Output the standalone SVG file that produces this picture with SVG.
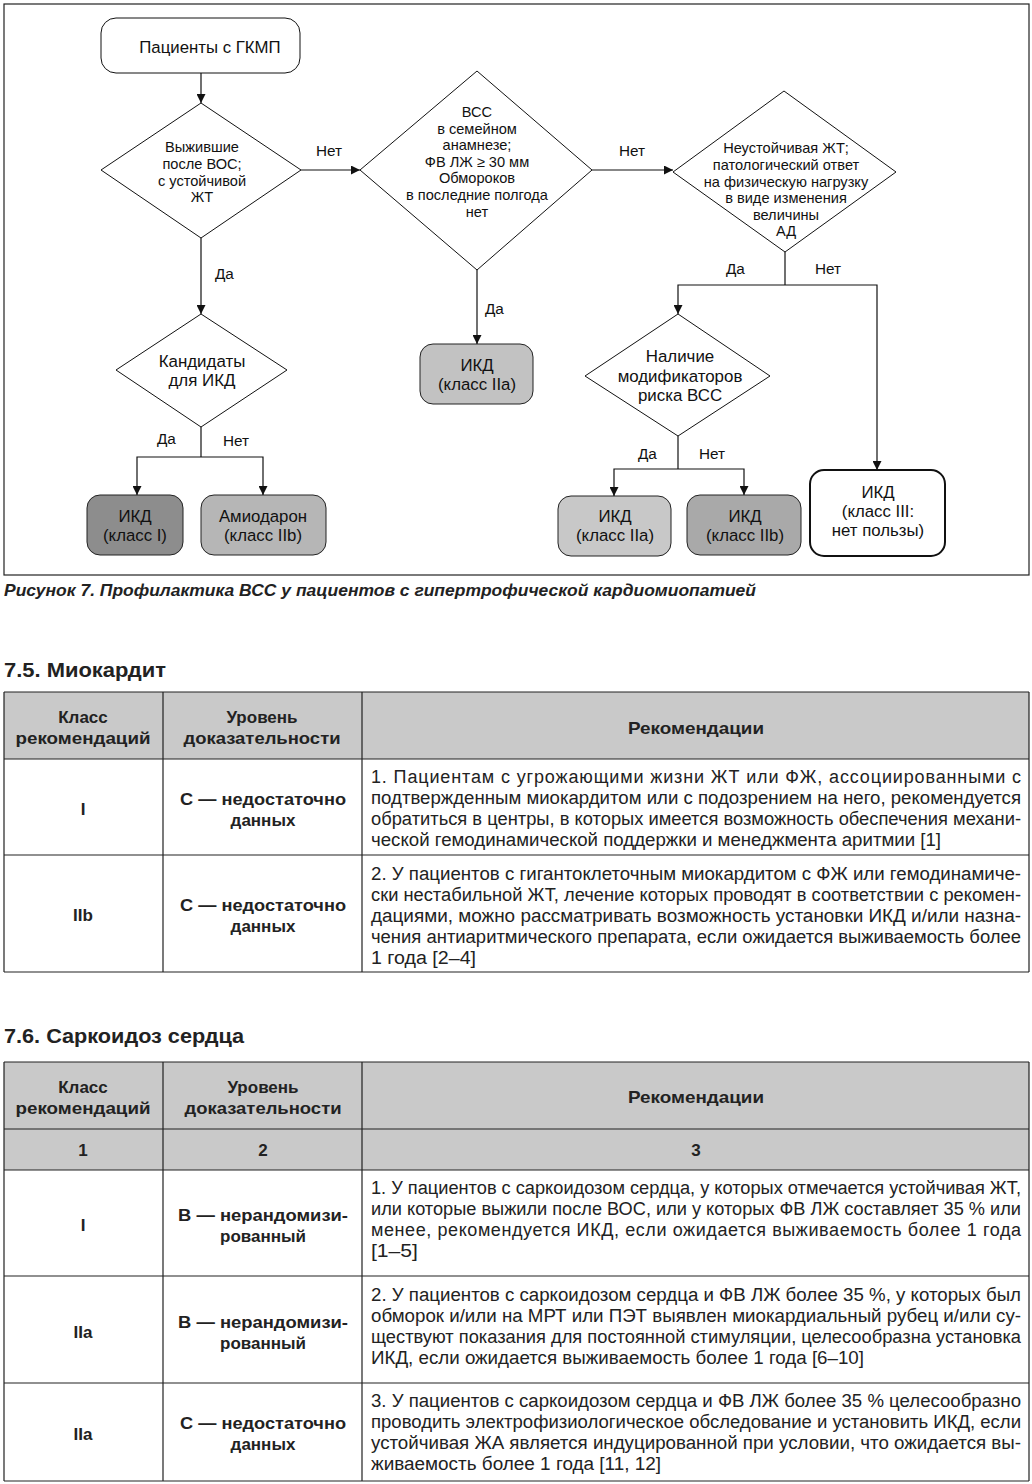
<svg xmlns="http://www.w3.org/2000/svg" width="1032" height="1484" viewBox="0 0 1032 1484">
<style>
.fc{font-family:"Liberation Sans",Arial,sans-serif;fill:#111;text-anchor:middle}
.d{font-size:14.6px}
.b{font-size:16.8px}
.m{font-size:16.9px}
.lb{font-family:"Liberation Sans",Arial,sans-serif;font-size:15.3px;fill:#111}
.shape{fill:#fff;stroke:#111;stroke-width:1}
.box{stroke:#222;stroke-width:1}
.con{fill:none;stroke:#111;stroke-width:1.2}
.cap{font-family:"Liberation Sans Narrow","Liberation Sans",Arial,sans-serif;font-weight:bold;font-style:italic;font-size:17px;fill:#222}
.h{font-family:"Liberation Sans",Arial,sans-serif;font-weight:bold;font-size:20px;fill:#222}
.th{font-family:"Liberation Sans",Arial,sans-serif;font-weight:bold;font-size:17px;fill:#222;text-anchor:middle}
.tx{font-family:"Liberation Sans Narrow","Liberation Sans",Arial,sans-serif;font-size:18px;fill:#222}
.grid{stroke:#222;stroke-width:1.2;fill:none}
.hd{fill:#c9c9c9}
</style>
<defs>
<marker id="ah" viewBox="0 0 10 10" refX="10" refY="5" markerWidth="10" markerHeight="9" markerUnits="userSpaceOnUse" orient="auto"><path d="M0,0 L10,5 L0,10 z" fill="#111"/></marker>
</defs>
<rect x="0" y="0" width="1032" height="1484" fill="#fff"/>
<rect x="4" y="4" width="1025" height="571" fill="none" stroke="#222" stroke-width="1.2"/>

<g id="n-start"><rect class="shape" x="101" y="18" width="199" height="55" rx="15"/><text class="fc" x="210" y="53" font-size="16.8">Пациенты с ГКМП</text></g>
<g id="n-d1"><polygon class="shape" points="201,103 301,170 201,238 101,170"/>
<text class="fc d" x="202" y="152">Выжившие</text><text class="fc d" x="202" y="169">после ВОС;</text><text class="fc d" x="202" y="186">с устойчивой</text><text class="fc d" x="202" y="202">ЖТ</text></g>
<g id="n-d2"><polygon class="shape" points="477,71 592,170 477,270 360,170"/>
<text class="fc d" x="477" y="117">ВСС</text><text class="fc d" x="477" y="134">в семейном</text><text class="fc d" x="477" y="150">анамнезе;</text><text class="fc d" x="477" y="167">ФВ ЛЖ ≥ 30 мм</text><text class="fc d" x="477" y="183">Обмороков</text><text class="fc d" x="477" y="200">в последние полгода</text><text class="fc d" x="477" y="217">нет</text></g>
<g id="n-d3"><polygon class="shape" points="784,91 896,172 785,252 673,172"/>
<text class="fc d" x="786" y="153">Неустойчивая ЖТ;</text><text class="fc d" x="786" y="170">патологический ответ</text><text class="fc d" x="786" y="187">на физическую нагрузку</text><text class="fc d" x="786" y="203">в виде изменения</text><text class="fc d" x="786" y="220">величины</text><text class="fc d" x="786" y="236">АД</text></g>
<g id="n-d4"><polygon class="shape" points="201,314 287,370 201,427 116,370"/>
<text class="fc m" x="202" y="367">Кандидаты</text><text class="fc m" x="202" y="386">для ИКД</text></g>
<g id="n-d5"><polygon class="shape" points="678,314 770,376 678,436 585,376"/>
<text class="fc m" x="680" y="362">Наличие</text><text class="fc m" x="680" y="382">модификаторов</text><text class="fc m" x="680" y="401">риска ВСС</text></g>
<g id="n-icd1"><rect class="box" x="87" y="495" width="96" height="60" rx="13" fill="#8d8d8d"/><text class="fc b" x="135" y="522">ИКД</text><text class="fc b" x="135" y="541">(класс I)</text></g>
<g id="n-amio"><rect class="box" x="201" y="495" width="125" height="60" rx="13" fill="#b6b6b6"/><text class="fc b" x="263" y="522">Амиодарон</text><text class="fc b" x="263" y="541">(класс IIb)</text></g>
<g id="n-icd2a"><rect class="box" x="420" y="344" width="113" height="60" rx="13" fill="#c2c2c2"/><text class="fc b" x="477" y="371">ИКД</text><text class="fc b" x="477" y="390">(класс IIa)</text></g>
<g id="n-icd3a"><rect class="box" x="558" y="496" width="113" height="60" rx="13" fill="#c8c8c8"/><text class="fc b" x="615" y="522">ИКД</text><text class="fc b" x="615" y="541">(класс IIa)</text></g>
<g id="n-icd2b"><rect class="box" x="687" y="495" width="114" height="60" rx="13" fill="#a9a9a9"/><text class="fc b" x="745" y="522">ИКД</text><text class="fc b" x="745" y="541">(класс IIb)</text></g>
<g id="n-icd3"><rect x="810" y="470" width="135" height="86" rx="14" fill="#fff" stroke="#111" stroke-width="2"/><text class="fc b" x="878" y="498">ИКД</text><text class="fc b" x="878" y="517">(класс III:</text><text class="fc b" x="878" y="536">нет пользы)</text></g>

<g id="connectors">
<path class="con" d="M201,73 V103" marker-end="url(#ah)"/>
<path class="con" d="M301,170 H360" marker-end="url(#ah)"/>
<path class="con" d="M592,170 H673" marker-end="url(#ah)"/>
<path class="con" d="M201,238 V314" marker-end="url(#ah)"/>
<path class="con" d="M477,270 V344" marker-end="url(#ah)"/>
<path class="con" d="M785,252 V285"/>
<path class="con" d="M785,285 H678 V314" marker-end="url(#ah)"/>
<path class="con" d="M785,285 H877 V470" marker-end="url(#ah)"/>
<path class="con" d="M201,427 V457"/>
<path class="con" d="M201,457 H137 V495" marker-end="url(#ah)"/>
<path class="con" d="M201,457 H263 V495" marker-end="url(#ah)"/>
<path class="con" d="M678,436 V469"/>
<path class="con" d="M678,469 H614 V496" marker-end="url(#ah)"/>
<path class="con" d="M678,469 H744 V495" marker-end="url(#ah)"/>
<text class="lb" x="316" y="156">Нет</text>
<text class="lb" x="619" y="156">Нет</text>
<text class="lb" x="215" y="279">Да</text>
<text class="lb" x="485" y="314">Да</text>
<text class="lb" x="726" y="274">Да</text>
<text class="lb" x="815" y="274">Нет</text>
<text class="lb" x="157" y="444">Да</text>
<text class="lb" x="223" y="446">Нет</text>
<text class="lb" x="638" y="459">Да</text>
<text class="lb" x="699" y="459">Нет</text>
</g>

<text class="cap" x="4" y="596" textLength="752" lengthAdjust="spacingAndGlyphs">Рисунок 7. Профилактика ВСС у пациентов с гипертрофической кардиомиопатией</text>

<text class="h" x="4" y="677" textLength="162" lengthAdjust="spacingAndGlyphs">7.5. Миокардит</text>

<g id="table1">
<rect class="hd" x="4" y="692" width="1025" height="67"/>
<path class="grid" d="M4,692 H1029 M4,759 H1029 M4,855 H1029 M4,972 H1029 M4,692 V972 M163,692 V972 M362,692 V972 M1029,692 V972"/>
<text class="th" x="83" y="723">Класс</text><text class="th" x="83" y="744" textLength="135" lengthAdjust="spacingAndGlyphs">рекомендаций</text>
<text class="th" x="262" y="723">Уровень</text><text class="th" x="262" y="744" textLength="157" lengthAdjust="spacingAndGlyphs">доказательности</text>
<text class="th" x="696" y="734" textLength="136" lengthAdjust="spacingAndGlyphs">Рекомендации</text>
<text class="th" x="83" y="815">I</text>
<text class="th" x="263" y="805" textLength="166" lengthAdjust="spacingAndGlyphs">С — недостаточно</text><text class="th" x="263" y="826">данных</text>
<text class="tx" x="371" y="783" textLength="650" lengthAdjust="spacing">1. Пациентам с угрожающими жизни ЖТ или ФЖ, ассоциированными с</text>
<text class="tx" x="371" y="804" textLength="650" lengthAdjust="spacingAndGlyphs">подтвержденным миокардитом или с подозрением на него, рекомендуется</text>
<text class="tx" x="371" y="825" textLength="650" lengthAdjust="spacingAndGlyphs">обратиться в центры, в которых имеется возможность обеспечения механи-</text>
<text class="tx" x="371" y="846" textLength="570" lengthAdjust="spacingAndGlyphs">ческой гемодинамической поддержки и менеджмента аритмии [1]</text>
<text class="th" x="83" y="921">IIb</text>
<text class="th" x="263" y="911" textLength="166" lengthAdjust="spacingAndGlyphs">С — недостаточно</text><text class="th" x="263" y="932">данных</text>
<text class="tx" x="371" y="880" textLength="650" lengthAdjust="spacingAndGlyphs">2. У пациентов с гигантоклеточным миокардитом с ФЖ или гемодинамиче-</text>
<text class="tx" x="371" y="901" textLength="650" lengthAdjust="spacingAndGlyphs">ски нестабильной ЖТ, лечение которых проводят в соответствии с рекомен-</text>
<text class="tx" x="371" y="922" textLength="650" lengthAdjust="spacingAndGlyphs">дациями, можно рассматривать возможность установки ИКД и/или назна-</text>
<text class="tx" x="371" y="943" textLength="650" lengthAdjust="spacingAndGlyphs">чения антиаритмического препарата, если ожидается выживаемость более</text>
<text class="tx" x="371" y="964" textLength="105" lengthAdjust="spacingAndGlyphs">1 года [2–4]</text>
</g>

<text class="h" x="4" y="1043" textLength="240" lengthAdjust="spacingAndGlyphs">7.6. Саркоидоз сердца</text>

<g id="table2">
<rect class="hd" x="4" y="1062" width="1025" height="108"/>
<path class="grid" d="M4,1062 H1029 M4,1129 H1029 M4,1170 H1029 M4,1276 H1029 M4,1383 H1029 M4,1481 H1029 M4,1062 V1481 M163,1062 V1481 M362,1062 V1481 M1029,1062 V1481"/>
<text class="th" x="83" y="1093">Класс</text><text class="th" x="83" y="1114" textLength="135" lengthAdjust="spacingAndGlyphs">рекомендаций</text>
<text class="th" x="263" y="1093">Уровень</text><text class="th" x="263" y="1114" textLength="157" lengthAdjust="spacingAndGlyphs">доказательности</text>
<text class="th" x="696" y="1103" textLength="136" lengthAdjust="spacingAndGlyphs">Рекомендации</text>
<text class="th" x="83" y="1156">1</text><text class="th" x="263" y="1156">2</text><text class="th" x="696" y="1156">3</text>
<text class="th" x="83" y="1231">I</text>
<text class="th" x="263" y="1221" textLength="170" lengthAdjust="spacingAndGlyphs">В — нерандомизи-</text><text class="th" x="263" y="1242">рованный</text>
<text class="tx" x="371" y="1194" textLength="650" lengthAdjust="spacingAndGlyphs">1. У пациентов с саркоидозом сердца, у которых отмечается устойчивая ЖТ,</text>
<text class="tx" x="371" y="1215" textLength="650" lengthAdjust="spacingAndGlyphs">или которые выжили после ВОС, или у которых ФВ ЛЖ составляет 35 % или</text>
<text class="tx" x="371" y="1236" textLength="650" lengthAdjust="spacing">менее, рекомендуется ИКД, если ожидается выживаемость более 1 года</text>
<text class="tx" x="371" y="1257" textLength="47" lengthAdjust="spacingAndGlyphs">[1–5]</text>
<text class="th" x="83" y="1338">IIa</text>
<text class="th" x="263" y="1328" textLength="170" lengthAdjust="spacingAndGlyphs">В — нерандомизи-</text><text class="th" x="263" y="1349">рованный</text>
<text class="tx" x="371" y="1301" textLength="650" lengthAdjust="spacingAndGlyphs">2. У пациентов с саркоидозом сердца и ФВ ЛЖ более 35 %, у которых был</text>
<text class="tx" x="371" y="1322" textLength="650" lengthAdjust="spacingAndGlyphs">обморок и/или на МРТ или ПЭТ выявлен миокардиальный рубец и/или су-</text>
<text class="tx" x="371" y="1343" textLength="650" lengthAdjust="spacingAndGlyphs">ществуют показания для постоянной стимуляции, целесообразна установка</text>
<text class="tx" x="371" y="1364" textLength="493" lengthAdjust="spacingAndGlyphs">ИКД, если ожидается выживаемость более 1 года [6–10]</text>
<text class="th" x="83" y="1440">IIa</text>
<text class="th" x="263" y="1429" textLength="166" lengthAdjust="spacingAndGlyphs">С — недостаточно</text><text class="th" x="263" y="1450">данных</text>
<text class="tx" x="371" y="1407" textLength="650" lengthAdjust="spacingAndGlyphs">3. У пациентов с саркоидозом сердца и ФВ ЛЖ более 35 % целесообразно</text>
<text class="tx" x="371" y="1428" textLength="650" lengthAdjust="spacingAndGlyphs">проводить электрофизиологическое обследование и установить ИКД, если</text>
<text class="tx" x="371" y="1449" textLength="650" lengthAdjust="spacingAndGlyphs">устойчивая ЖА является индуцированной при условии, что ожидается вы-</text>
<text class="tx" x="371" y="1470" textLength="290" lengthAdjust="spacingAndGlyphs">живаемость более 1 года [11, 12]</text>
</g>
</svg>
